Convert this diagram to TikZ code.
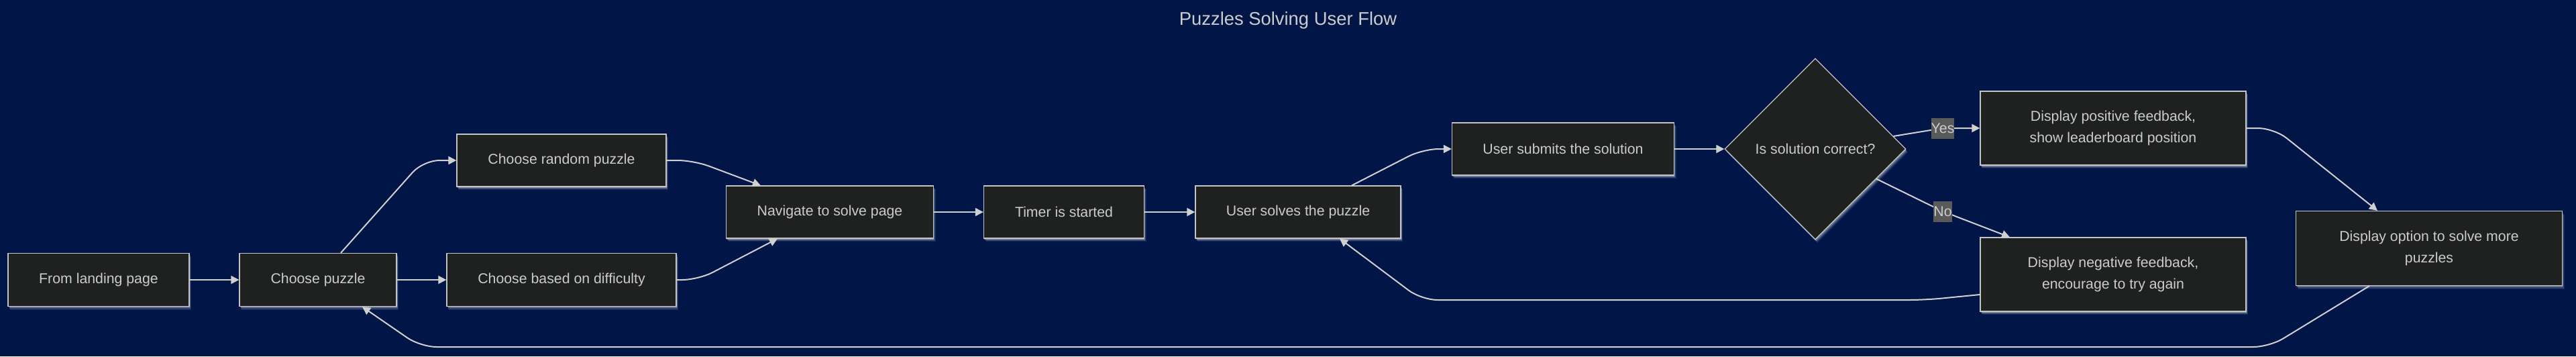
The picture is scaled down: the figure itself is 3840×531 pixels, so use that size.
\documentclass[tikz,border=0pt]{standalone}
\usepackage{fontspec}
\setmainfont{Liberation Sans}
\usetikzlibrary{shapes.geometric,arrows.meta,shadows}
\definecolor{sfondo}{HTML}{011547}
\definecolor{riempi}{HTML}{1F2020}
\definecolor{bordo}{HTML}{C4C4C4}
\definecolor{testo}{HTML}{CCCCCC}
\definecolor{linea}{HTML}{D0D0D0}
\definecolor{etich}{HTML}{5A5A5A}

\begin{document}
\begin{tikzpicture}[x=0.5pt, y=-0.5pt,
  glow/.style={
    drop shadow={shadow xshift=1.6pt, shadow yshift=-2.6pt, fill=white, opacity=0.08},
    drop shadow={shadow xshift=1.2pt, shadow yshift=-2.0pt, fill=white, opacity=0.12},
    drop shadow={shadow xshift=0.8pt, shadow yshift=-1.4pt, fill=white, opacity=0.18},
    drop shadow={shadow xshift=0.4pt, shadow yshift=-0.8pt, fill=white, opacity=0.25}},
  box/.style={draw=bordo, line width=0.6pt, fill=riempi, text=testo,
    font=\fontsize{10.65}{16}\selectfont, align=center, inner sep=0pt, glow},
  scelta/.style={box, diamond, aspect=1, minimum width=135pt, minimum height=135pt},
  flow/.style={draw=linea, line width=1pt, -{Triangle[length=6pt,width=6pt]}, rounded corners=12pt},
  lbl/.style={fill=etich, text=testo, font=\fontsize{10.65}{12}\selectfont,
    inner xsep=0pt, inner ysep=0pt, minimum height=15.5pt, sharp corners}
]
  \fill[sfondo] (0,0) rectangle (3840,531);
  \useasboundingbox (0,0) rectangle (3840,531);

  % Titolo
  \node[text=testo, font=\fontsize{13.7}{16}\selectfont, anchor=base] (titolo) at (1920,37) {Puzzles Solving User Flow};

  % Nodi
  \node[box, minimum width=135pt, minimum height=39.5pt] (landing) at (147,417) {From landing page};
  \node[box, minimum width=117pt, minimum height=39.5pt] (choose) at (474,417) {Choose puzzle};
  \node[box, minimum width=156pt, minimum height=39pt] (random) at (837,239) {Choose random puzzle};
  \node[box, minimum width=171pt, minimum height=39.5pt] (diff) at (837,417) {Choose based on difficulty};
  \node[box, minimum width=154.5pt, minimum height=39pt] (nav) at (1237,316) {Navigate to solve page};
  \node[box, minimum width=119.5pt, minimum height=39pt] (timer) at (1586,316) {Timer is started};
  \node[box, minimum width=153pt, minimum height=39pt] (solves) at (1935,316) {User solves the puzzle};
  \node[box, minimum width=165.5pt, minimum height=39pt] (submit) at (2330,222) {User submits the solution};
  \node[scelta] (correct) at (2706,222) {Is solution correct?};
  \node[box, minimum width=198pt, minimum height=55pt] (pos) at (3150,191) {Display positive feedback,\\show leaderboard position};
  \node[box, minimum width=198pt, minimum height=55pt] (neg) at (3150,409) {Display negative feedback,\\encourage to try again};
  \node[box, minimum width=198.5pt, minimum height=55.5pt] (more) at (3621,370) {Display option to solve more\\puzzles};

  % Collegamenti
  \draw[flow] (landing) -- (choose);
  \draw[flow] ([xshift=17pt]choose.north) -- (631,239) -- (random.west);
  \draw[flow] (choose) -- (diff);
  \draw[flow] (random.east) -- (1034,239) -- ([xshift=-51.5pt]nav.north);
  \draw[flow] (diff.east) -- (1041,417) -- ([xshift=-39pt]nav.south);
  \draw[flow] (nav) -- (timer);
  \draw[flow] (timer) -- (solves);
  \draw[flow] ([xshift=40pt]solves.north) -- (2121,222) -- (submit.west);
  \draw[flow] (submit) -- (correct);
  \draw[flow] (correct) -- (2896,191) node[lbl] {Yes} -- (pos.west);
  \draw[flow] (correct) -- (2896,315) node[lbl] {No} -- ([xshift=-77pt]neg.north);
  \draw[flow] (pos.east) -- (3390,191) -- ([xshift=-38.5pt]more.north);

  % Ritorni
  \draw[flow] ([xshift=-44.5pt]more.south) -- (3383,517) -- (627,517) -- ([xshift=33pt]choose.south);
  \draw[flow] ([yshift=-15pt]neg.west) -- (2870,447) -- (2119,447) -- ([xshift=31pt]solves.south);
\end{tikzpicture}
\end{document}
